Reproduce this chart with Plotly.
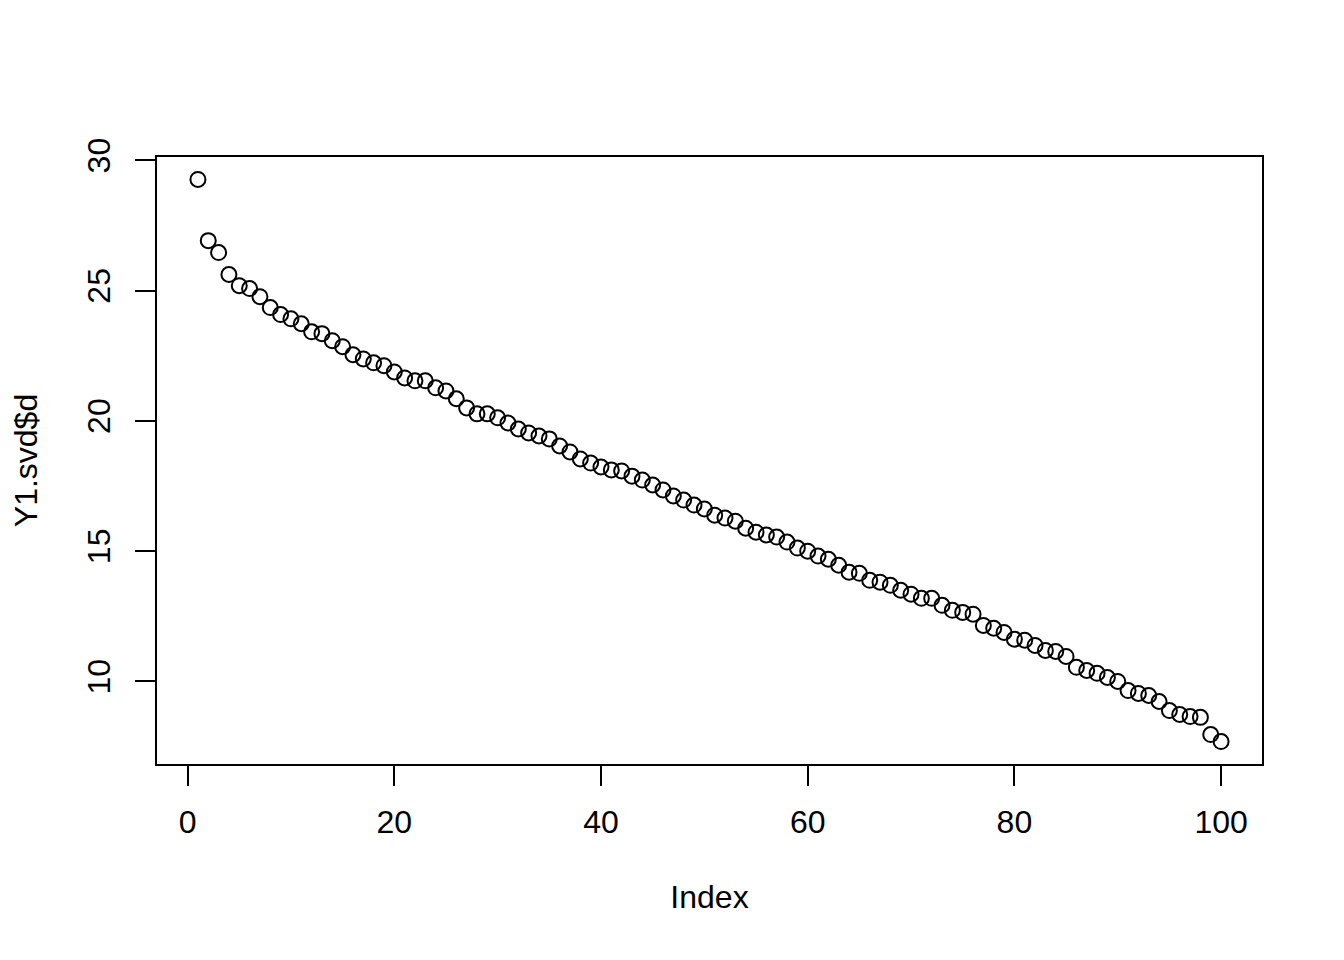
import plotly.graph_objects as go

index = list(range(1, 101))
svd_d = [
    29.27, 26.92, 26.46, 25.62, 25.19, 25.08, 24.77, 24.35, 24.08, 23.92,
    23.73, 23.42, 23.35, 23.08, 22.85, 22.54, 22.38, 22.23, 22.12, 21.88,
    21.65, 21.54, 21.54, 21.27, 21.15, 20.85, 20.50, 20.27, 20.27, 20.12,
    19.92, 19.69, 19.54, 19.42, 19.31, 19.04, 18.81, 18.54, 18.38, 18.23,
    18.12, 18.08, 17.88, 17.73, 17.54, 17.35, 17.12, 16.96, 16.77, 16.62,
    16.38, 16.27, 16.15, 15.88, 15.73, 15.62, 15.54, 15.35, 15.12, 15.00,
    14.81, 14.69, 14.46, 14.19, 14.15, 13.88, 13.81, 13.69, 13.50, 13.35,
    13.19, 13.19, 12.92, 12.73, 12.65, 12.58, 12.15, 12.04, 11.88, 11.62,
    11.58, 11.38, 11.19, 11.15, 10.96, 10.54, 10.42, 10.31, 10.15, 10.00,
    9.65, 9.54, 9.46, 9.23, 8.88, 8.73, 8.65, 8.62, 7.96, 7.69,
]
x_ticks = [0, 20, 40, 60, 80, 100]
y_ticks = [10, 15, 20, 25, 30]

fig = go.Figure(
    go.Scatter(
        x=index,
        y=svd_d,
        mode="markers",
        marker=dict(symbol="circle-open", size=15, color="black", line=dict(width=2, color="black")),
        showlegend=False,
    )
)

axis_common = dict(
    showgrid=False,
    zeroline=False,
    showline=True,
    mirror=True,
    linecolor="black",
    linewidth=2,
    ticks="outside",
    ticklen=20,
    tickwidth=2,
    tickcolor="black",
    tickfont=dict(size=32, color="black"),
)

# page body has an 8px margin, so the margins are shifted to land the box where R put it
fig.update_layout(
    width=1344,
    height=960,
    margin=dict(l=149, r=90, t=149, b=204, autoexpand=False),
    paper_bgcolor="white",
    plot_bgcolor="white",
    font=dict(family="Liberation Sans, Arial, sans-serif", size=32, color="black"),
    xaxis=dict(
        axis_common,
        range=[-2.96, 103.96],
        tickvals=x_ticks,
        ticklabelstandoff=9,
        title=dict(text="Index", font=dict(size=32), standoff=46),
    ),
    yaxis=dict(
        axis_common,
        range=[6.83, 30.13],
        tickvals=y_ticks,
        tickangle=-90,
        ticklabelstandoff=12,
        title=dict(text="Y1.svd$d", font=dict(size=32), standoff=40),
    ),
)

fig.write_html("out.html")
